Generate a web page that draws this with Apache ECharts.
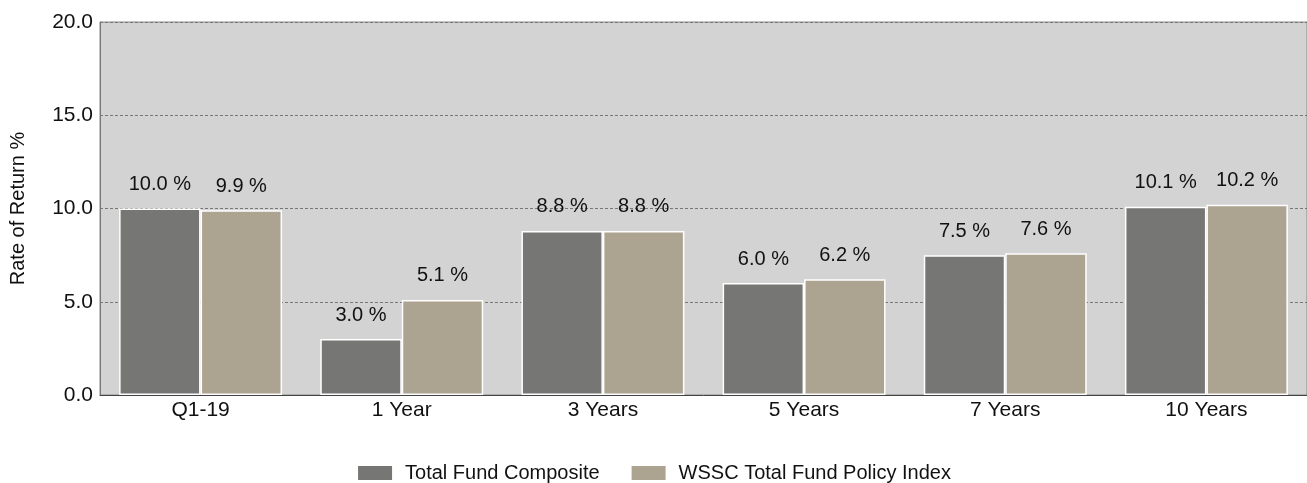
<!DOCTYPE html>
<html><head><meta charset="utf-8">
<script src="https://cdn.jsdelivr.net/npm/echarts@6/dist/echarts.min.js"></script>
<style>html,body{margin:0;padding:0;background:#fff}#c{width:1307px;height:483px}</style>
</head><body><div id="c"></div>
<script>
const categories = ['Q1-19', '1 Year', '3 Years', '5 Years', '7 Years', '10 Years'];
const composite = [10.0, 3.0, 8.8, 6.0, 7.5, 10.1];
const policy = [9.9, 5.1, 8.8, 6.2, 7.6, 10.2];
const seriesNames = ['Total Fund Composite', 'WSSC Total Fund Policy Index'];

const chart = echarts.init(document.getElementById('c'));
const font = 'Liberation Sans, Arial, sans-serif';
const lbl = {
  show: true, position: 'top', distance: 14,
  fontFamily: font, fontSize: 20, color: '#111',
  formatter: p => p.value.toFixed(1) + ' %'
};
chart.setOption({
  animation: false,
  textStyle: { fontFamily: font },
  grid: { left: 100, right: 0, top: 22, bottom: 88, show: true, outerBoundsMode: 'none',
    containLabel: false,
    backgroundColor: '#D3D3D3', borderColor: '#8a8a8a', borderWidth: 1 },
  legend: {
    top: 458, left: 'center', itemWidth: 36, itemHeight: 16, itemGap: 30,
    icon: 'rect',
    textStyle: { fontFamily: font, fontSize: 20, color: '#111', padding: [0, 0, 0, 7] },
    data: seriesNames
  },
  xAxis: {
    type: 'category', data: categories,
    axisLine: { lineStyle: { color: '#444', width: 1 } },
    axisTick: { show: false },
    axisLabel: { fontFamily: font, fontSize: 21, color: '#111', margin: 5 }
  },
  yAxis: {
    type: 'value', min: 0, max: 20, interval: 5,
    name: 'Rate of Return %', nameLocation: 'middle', nameGap: 72, nameRotate: 90,
    nameTextStyle: { fontFamily: font, fontSize: 20, color: '#111' },
    axisLine: { show: true, lineStyle: { color: '#777' } },
    axisTick: { show: false },
    axisLabel: { fontFamily: font, fontSize: 21, color: '#111', margin: 7,
      formatter: v => v.toFixed(1) },
    splitLine: { show: true, lineStyle: { color: '#777', type: [3, 2], width: 1 } }
  },
  series: [
    { name: seriesNames[0], type: 'bar', data: composite, barGap: '0%', barCategoryGap: '19%',
      itemStyle: { color: '#767674', borderColor: '#fff', borderWidth: 1.5 }, label: lbl },
    { name: seriesNames[1], type: 'bar', data: policy, barGap: '0%', barCategoryGap: '19%',
      itemStyle: { color: '#ADA391', borderColor: '#fff', borderWidth: 1.5 }, label: lbl }
  ]
});
</script></body></html>
